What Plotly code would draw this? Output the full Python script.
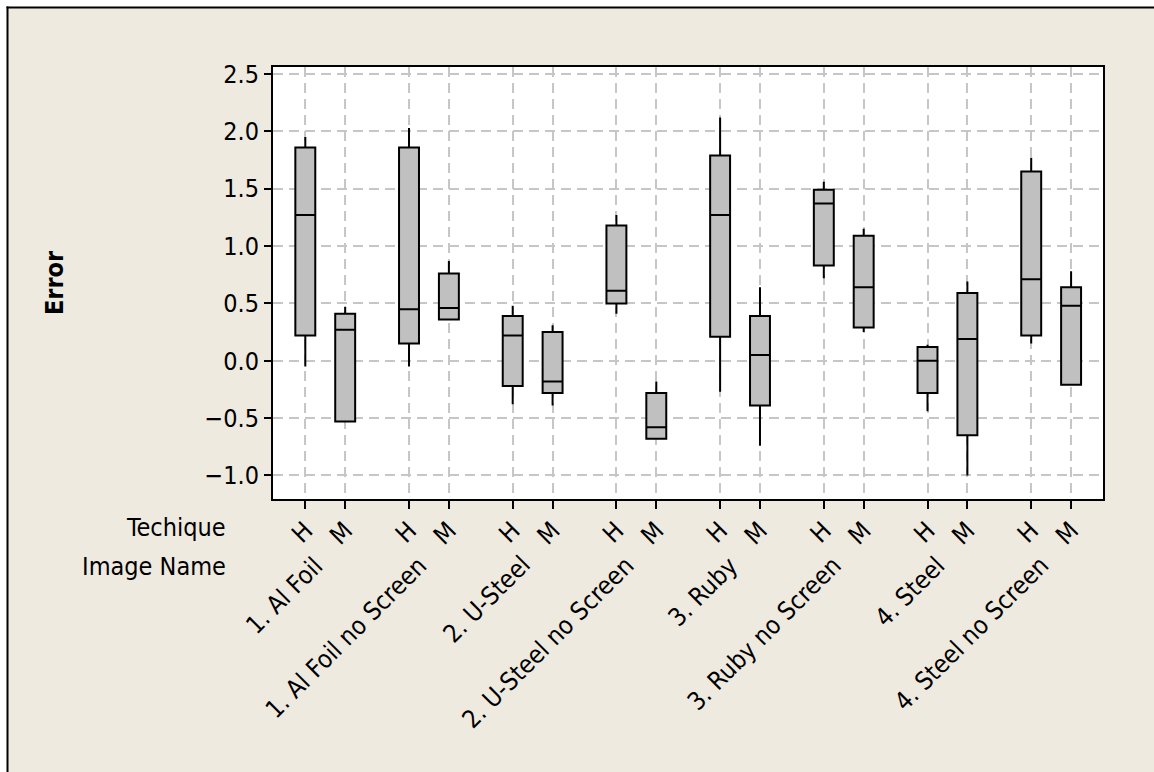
import plotly.graph_objects as go

# Image groups and techniques (x-axis levels)
image_names = [
    "1. Al Foil", "1. Al Foil no Screen", "2. U-Steel", "2. U-Steel no Screen",
    "3. Ruby", "3. Ruby no Screen", "4. Steel", "4. Steel no Screen",
]
techniques = ["H", "M"]

# Box statistics, ordered group by group (H then M)
lower_whisker = [-0.05, -0.53, -0.05, 0.36, -0.38, -0.39, 0.41, -0.68,
                 -0.27, -0.74, 0.72, 0.25, -0.44, -1.00, 0.15, -0.21]
q1_values = [0.22, -0.53, 0.15, 0.36, -0.22, -0.28, 0.50, -0.68,
             0.21, -0.39, 0.83, 0.29, -0.28, -0.65, 0.22, -0.21]
median_values = [1.27, 0.27, 0.45, 0.46, 0.22, -0.18, 0.61, -0.58,
                 1.27, 0.05, 1.37, 0.64, 0.00, 0.19, 0.71, 0.48]
q3_values = [1.86, 0.41, 1.86, 0.76, 0.39, 0.25, 1.18, -0.28,
             1.79, 0.39, 1.49, 1.09, 0.12, 0.59, 1.65, 0.64]
upper_whisker = [1.95, 0.47, 2.03, 0.87, 0.48, 0.31, 1.27, -0.18,
                 2.12, 0.64, 1.56, 1.15, 0.14, 0.69, 1.77, 0.78]

y_ticks = [-1.0, -0.5, 0.0, 0.5, 1.0, 1.5, 2.0, 2.5]

# Layout geometry
GROUP_STEP = 2.6
W, H = 1154, 772
ML, MR, MT, MB = 273, 51, 67, 273
PLOT_W = W - ML - MR
PLOT_H = H - MT - MB
FONT = "DejaVu Sans Condensed, Tahoma, DejaVu Sans, sans-serif"
FONT_SIZE = 25
BG = "#EEEAE0"
GRID = "#C6C6C6"


def px_to_paper_x(px):
    return (px - ML) / PLOT_W


def px_to_paper_y(py):
    return (H - MB - py) / PLOT_H


positions = []
tick_text = []
for g, _ in enumerate(image_names):
    for t, tech in enumerate(techniques):
        positions.append(g * GROUP_STEP + t)
        tick_text.append(tech)

fig = go.Figure()
fig.add_trace(go.Box(
    x=positions,
    lowerfence=lower_whisker,
    q1=q1_values,
    median=median_values,
    q3=q3_values,
    upperfence=upper_whisker,
    width=0.5,
    whiskerwidth=0,
    fillcolor="#C0C0C0",
    line=dict(color="black", width=2),
    boxpoints=False,
    hoverinfo="skip",
    showlegend=False,
))

annotations = []
# Image name labels, centred under each H/M pair
for g, name in enumerate(image_names):
    annotations.append(dict(
        x=g * GROUP_STEP + 0.5, xref="x",
        y=px_to_paper_y(548), yref="paper",
        text=name, textangle=-45, showarrow=False,
        xanchor="right", yanchor="top", xshift=6,
        font=dict(family=FONT, size=FONT_SIZE, color="black"),
    ))

# Row headers for the two x-axis levels
annotations.append(dict(
    x=px_to_paper_x(228), xref="paper", y=px_to_paper_y(527), yref="paper",
    text="Techique", showarrow=False, xanchor="right", yanchor="middle",
    font=dict(family=FONT, size=FONT_SIZE, color="black"),
))
annotations.append(dict(
    x=px_to_paper_x(228), xref="paper", y=px_to_paper_y(566), yref="paper",
    text="Image Name", showarrow=False, xanchor="right", yanchor="middle",
    font=dict(family=FONT, size=FONT_SIZE, color="black"),
))
# Y-axis title
annotations.append(dict(
    x=px_to_paper_x(54), xref="paper", y=0.5, yref="paper",
    text="<b>Error</b>", textangle=-90, showarrow=False,
    xanchor="center", yanchor="middle",
    font=dict(family=FONT, size=FONT_SIZE, color="black"),
))

shapes = [
    # white margin strips and the outer frame lines
    dict(type="rect", xref="paper", yref="paper",
         x0=px_to_paper_x(-5), x1=px_to_paper_x(7),
         y0=px_to_paper_y(H + 5), y1=px_to_paper_y(-5),
         fillcolor="white", line=dict(width=0), layer="below"),
    dict(type="rect", xref="paper", yref="paper",
         x0=px_to_paper_x(-5), x1=px_to_paper_x(W + 5),
         y0=px_to_paper_y(7), y1=px_to_paper_y(-5),
         fillcolor="white", line=dict(width=0), layer="below"),
    dict(type="line", xref="paper", yref="paper",
         x0=px_to_paper_x(7.5), x1=px_to_paper_x(7.5),
         y0=px_to_paper_y(6.5), y1=px_to_paper_y(H + 5),
         line=dict(color="black", width=2), layer="below"),
    dict(type="line", xref="paper", yref="paper",
         x0=px_to_paper_x(6.5), x1=px_to_paper_x(W + 5),
         y0=px_to_paper_y(7.5), y1=px_to_paper_y(7.5),
         line=dict(color="black", width=2), layer="below"),
]

fig.update_layout(
    width=W, height=H,
    margin=dict(l=ML, r=MR, t=MT, b=MB, pad=0),
    paper_bgcolor=BG,
    plot_bgcolor="white",
    font=dict(family=FONT, size=FONT_SIZE, color="black"),
    annotations=annotations,
    shapes=shapes,
    showlegend=False,
)

fig.update_xaxes(
    range=[-0.81, 7 * GROUP_STEP + 1.8],
    tickmode="array", tickvals=positions, ticktext=tick_text,
    tickangle=-45, ticklabelstandoff=-3,
    ticks="outside", ticklen=8, tickwidth=2, tickcolor="black",
    showline=True, linewidth=2, linecolor="black", mirror=True,
    showgrid=True, gridcolor=GRID, gridwidth=1.5, griddash="10px,6px",
    zeroline=False,
    tickfont=dict(family=FONT, size=FONT_SIZE, color="black"),
)
fig.update_yaxes(
    range=[-1.205, 2.561],
    tickmode="array", tickvals=y_ticks, tickformat=".1f",
    ticks="outside", ticklen=7, tickwidth=2, tickcolor="black",
    showline=True, linewidth=2, linecolor="black", mirror=True,
    showgrid=True, gridcolor=GRID, gridwidth=1.5, griddash="10px,6px",
    zeroline=False,
    tickfont=dict(family=FONT, size=FONT_SIZE, color="black"),
)

fig.write_html("out.html")
